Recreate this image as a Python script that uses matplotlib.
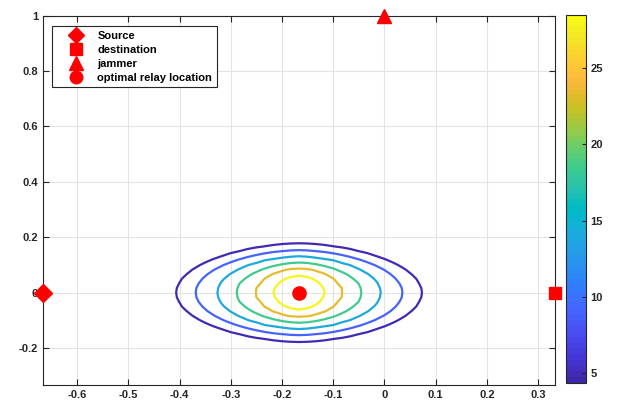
import numpy as np
import matplotlib
matplotlib.use("Agg")
import matplotlib.pyplot as plt
from matplotlib.colors import ListedColormap, Normalize
from matplotlib.cm import ScalarMappable

plt.rcParams["font.family"] = ["Liberation Sans", "DejaVu Sans"]
plt.rcParams["font.weight"] = "bold"
plt.rcParams["font.size"] = 7.5

# node positions
source = (-2 / 3, 0.0)
destination = (1 / 3, 0.0)
jammer = (0.0, 1.0)
relay_opt = (-1 / 6, 0.0)

# contour levels and the semi-axes of each closed curve
levels = [5.0, 9.0, 14.0, 18.5, 23.5, 28.0]
semi_x = [0.239, 0.202, 0.161, 0.123, 0.085, 0.050]
semi_y = [0.177, 0.153, 0.132, 0.108, 0.090, 0.063]
z_min, z_max = 4.35, 28.5

# parula colormap (MATLAB)
parula_rgb = [
    [0.2422, 0.1504, 0.6603], [0.2504, 0.1650, 0.7076], [0.2578, 0.1818, 0.7511],
    [0.2647, 0.1978, 0.7952], [0.2706, 0.2147, 0.8364], [0.2751, 0.2342, 0.8710],
    [0.2783, 0.2559, 0.8991], [0.2803, 0.2782, 0.9221], [0.2813, 0.3006, 0.9414],
    [0.2810, 0.3228, 0.9579], [0.2795, 0.3447, 0.9717], [0.2760, 0.3667, 0.9829],
    [0.2699, 0.3892, 0.9906], [0.2602, 0.4123, 0.9952], [0.2440, 0.4358, 0.9988],
    [0.2206, 0.4603, 0.9973], [0.1963, 0.4847, 0.9892], [0.1834, 0.5074, 0.9798],
    [0.1786, 0.5289, 0.9682], [0.1764, 0.5499, 0.9520], [0.1687, 0.5703, 0.9359],
    [0.1540, 0.5902, 0.9218], [0.1460, 0.6091, 0.9079], [0.1380, 0.6276, 0.8973],
    [0.1248, 0.6459, 0.8883], [0.1113, 0.6635, 0.8763], [0.0952, 0.6798, 0.8598],
    [0.0689, 0.6948, 0.8394], [0.0297, 0.7082, 0.8163], [0.0036, 0.7203, 0.7917],
    [0.0067, 0.7312, 0.7660], [0.0433, 0.7411, 0.7394], [0.0964, 0.7500, 0.7120],
    [0.1408, 0.7584, 0.6842], [0.1717, 0.7670, 0.6554], [0.1938, 0.7758, 0.6251],
    [0.2161, 0.7843, 0.5923], [0.2470, 0.7918, 0.5567], [0.2906, 0.7973, 0.5188],
    [0.3406, 0.8008, 0.4789], [0.3909, 0.8029, 0.4354], [0.4456, 0.8024, 0.3909],
    [0.5044, 0.7993, 0.3480], [0.5616, 0.7942, 0.3045], [0.6174, 0.7876, 0.2612],
    [0.6720, 0.7793, 0.2227], [0.7242, 0.7698, 0.1910], [0.7738, 0.7598, 0.1646],
    [0.8203, 0.7498, 0.1535], [0.8634, 0.7406, 0.1596], [0.9035, 0.7330, 0.1774],
    [0.9393, 0.7288, 0.2100], [0.9728, 0.7298, 0.2394], [0.9956, 0.7434, 0.2371],
    [0.9970, 0.7659, 0.2199], [0.9952, 0.7893, 0.2028], [0.9892, 0.8136, 0.1885],
    [0.9786, 0.8386, 0.1766], [0.9676, 0.8639, 0.1643], [0.9610, 0.8890, 0.1537],
    [0.9597, 0.9135, 0.1423], [0.9628, 0.9373, 0.1265], [0.9691, 0.9606, 0.1064],
    [0.9769, 0.9839, 0.0805],
]
parula = ListedColormap(parula_rgb, name="parula")

# build a grid field whose level curves pass through the read curves
xg = np.linspace(source[0], destination[0], 61)
yg = np.linspace(-1 / 3, 1, 81)
X, Y = np.meshgrid(xg, yg)
dx = X - relay_opt[0]
dy = Y - relay_opt[1]
R = np.array([np.sqrt(np.abs(dx / a) ** 1.75 + (dy / b) ** 2) for a, b in zip(semi_x, semi_y)])
Z = np.full(X.shape, np.nan)
outside = R[0] >= 1
Z[outside] = levels[0] - (R[0][outside] - 1) * 20.0
for k in range(len(levels) - 1):
    m = (R[k] < 1) & (R[k + 1] >= 1)
    t = (1 - R[k][m]) / (R[k + 1][m] - R[k][m])
    Z[m] = levels[k] + t * (levels[k + 1] - levels[k])
inner = R[-1] < 1
Z[inner] = levels[-1] + (1 - R[-1][inner]) * 8.0

fig = plt.figure(figsize=(6.17, 4.04), dpi=100)
ax = fig.add_axes([0.0697, 0.047, 0.830, 0.9146])
cax = fig.add_axes([0.917, 0.052, 0.0324, 0.911])

norm = Normalize(vmin=z_min, vmax=z_max)
ax.contour(X, Y, Z, levels=levels, cmap=parula, norm=norm, linewidths=1.6)

ax.plot(*source, "rD", ms=9, clip_on=False, zorder=5, label="Source")
ax.plot(*destination, "rs", ms=8.5, clip_on=False, zorder=5, label="destination")
ax.plot(*jammer, "r^", ms=10, clip_on=False, zorder=5, label="jammer")
ax.plot(*relay_opt, "ro", ms=9.5, clip_on=False, zorder=5, label="optimal relay location")

ax.set_xlim(source[0], destination[0])
ax.set_ylim(-1 / 3, 1)
ax.set_xticks(np.arange(-0.6, 0.35, 0.1))
ax.set_xticklabels(["-0.6", "-0.5", "-0.4", "-0.3", "-0.2", "-0.1", "0", "0.1", "0.2", "0.3"])
ax.set_yticks(np.arange(-0.2, 1.05, 0.2))
ax.set_yticklabels(["-0.2", "0", "0.2", "0.4", "0.6", "0.8", "1"])
ax.grid(True, color="#e3e3e3", linewidth=0.8)
ax.set_axisbelow(True)
ax.tick_params(direction="in", length=4, color="#262626", labelcolor="#262626",
               top=True, right=True, labelsize=8)
for sp in ax.spines.values():
    sp.set_color("#262626")
    sp.set_linewidth(0.8)

leg = ax.legend(loc="upper left", bbox_to_anchor=(0.0176, 0.972), borderaxespad=0,
                fancybox=False, edgecolor="#262626", framealpha=1, borderpad=0.42,
                labelspacing=0.36, handletextpad=0.15, handlelength=3.5, fontsize=8,
                markerscale=0.95)
leg.get_frame().set_linewidth(0.8)

sm = ScalarMappable(norm=norm, cmap=parula)
cb = fig.colorbar(sm, cax=cax, ticks=[5, 10, 15, 20, 25])
cb.outline.set_edgecolor("#262626")
cb.outline.set_linewidth(0.8)
cax.tick_params(direction="in", length=3, color="#262626", labelcolor="#262626",
                labelsize=8)

fig.savefig("out.png", dpi=100)
